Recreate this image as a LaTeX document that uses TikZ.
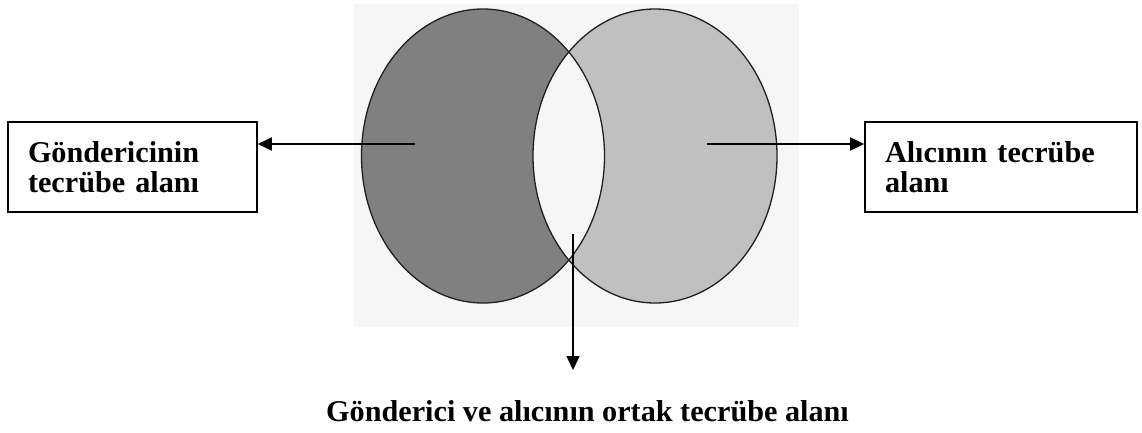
\documentclass[tikz,border=0pt]{standalone}
\usepackage{fontspec}
\setmainfont{Liberation Serif}
\usetikzlibrary{arrows.meta}
\definecolor{bgc}{HTML}{F6F6F6}
\definecolor{leftc}{HTML}{808080}
\definecolor{rightc}{HTML}{C0C0C0}
\definecolor{edgec}{HTML}{202020}
\tikzset{
  txt/.style={font=\fontsize{30.2}{30}\selectfont\bfseries},
  infobox/.style={draw=black, line width=1.6pt, txt, align=left, inner xsep=20pt, inner ysep=0pt, anchor=center},
  arr/.style={line width=1.5pt, -{Triangle[length=14pt,width=13pt]}},
  rim/.style={draw=edgec, line width=1.3pt}
}
\begin{document}
\begin{tikzpicture}[x=1pt,y=-1pt]
\useasboundingbox (0,0) rectangle (1142,432);
\fill[bgc] (354,4) rectangle (799,327);
\fill[leftc] (483,156) ellipse [x radius=121.5, y radius=147];
\fill[rightc] (655,156) ellipse [x radius=122, y radius=147];
\begin{scope}
  \clip (483,156) ellipse [x radius=121.5, y radius=147];
  \fill[bgc] (655,156) ellipse [x radius=122, y radius=147];
\end{scope}
\draw[rim] (483,156) ellipse [x radius=121.5, y radius=147];
\draw[rim] (655,156) ellipse [x radius=122, y radius=147];

\node[infobox, minimum width=249pt, minimum height=90pt, text width=209pt] (lbox) at (132.5,167) {G\"ondericinin\\tecr\"ube alan\i};
\node[infobox, minimum width=272pt, minimum height=90pt, text width=232pt] (rbox) at (1001,167) {Al\i c\i n\i n tecr\"ube\\alan\i};
\node[txt, anchor=base] (btext) at (587.5,421) {G\"onderici ve al\i c\i n\i n ortak tecr\"ube alan\i};

\coordinate (lsrc) at (415,144);
\coordinate (rsrc) at (707,144);
\coordinate (bsrc) at (573,234);
\coordinate (btip) at (573,370);
\draw[arr] (lsrc) -- (lsrc -| lbox.east);
\draw[arr] (rsrc) -- (rsrc -| rbox.west);
\draw[arr] (bsrc) -- (btip);
\end{tikzpicture}
\end{document}
